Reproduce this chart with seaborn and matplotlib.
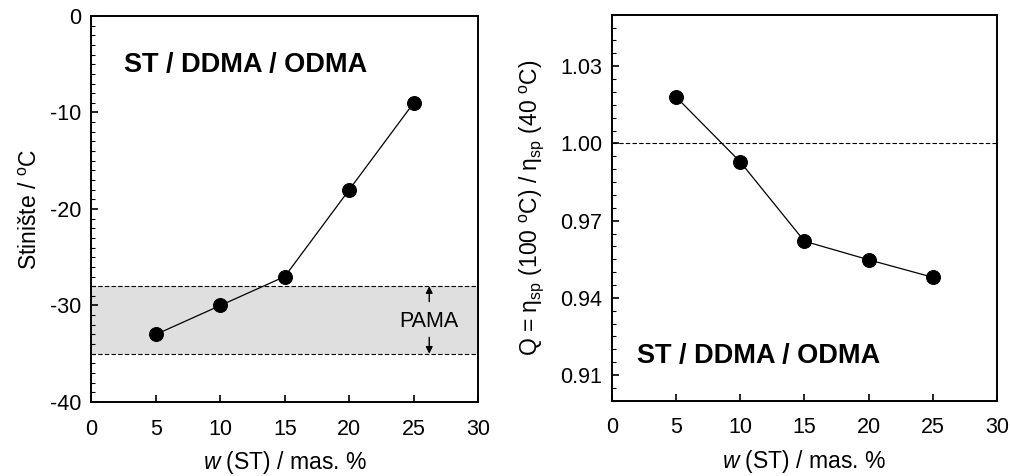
import matplotlib
matplotlib.use("Agg")
import matplotlib.pyplot as plt
import seaborn as sns
import pandas as pd
from matplotlib.ticker import MultipleLocator

# Data
w_st = [5, 10, 15, 20, 25]
cloud_point = [-33, -30, -27, -18, -9]
q_ratio = [1.018, 0.9928, 0.962, 0.9548, 0.948]
pama_low, pama_high = -35, -28
left_yticks = [-40, -30, -20, -10, 0]
right_yticks = [0.91, 0.94, 0.97, 1.00, 1.03]
xticks = [0, 5, 10, 15, 20, 25, 30]
label_text = "ST / DDMA / ODMA"

sns.set_theme(style="ticks")
plt.rcParams['font.family'] = ['Liberation Sans', 'DejaVu Sans']
plt.rcParams['mathtext.fontset'] = 'custom'
plt.rcParams['mathtext.rm'] = 'Liberation Sans'
plt.rcParams['mathtext.it'] = 'Liberation Sans:italic'
plt.rcParams['mathtext.default'] = 'regular'
plt.rcParams['axes.unicode_minus'] = False
plt.rcParams['text.color'] = 'black'
plt.rcParams['axes.labelcolor'] = 'black'
plt.rcParams['xtick.color'] = 'black'
plt.rcParams['ytick.color'] = 'black'

df_l = pd.DataFrame({"w": w_st, "t": cloud_point})
df_r = pd.DataFrame({"w": w_st, "q": q_ratio})

fig = plt.figure(figsize=(10.1, 4.76), dpi=100)
ax1 = fig.add_axes([0.0905, 0.1555, 0.383, 0.811])
ax2 = fig.add_axes([0.606, 0.158, 0.381, 0.811])

FS = 15.5
LFS = 16.5
for ax in (ax1, ax2):
    for s in ax.spines.values():
        s.set_linewidth(1.4)
        s.set_color("black")
        s.set_visible(True)
    ax.tick_params(axis='both', which='both', direction='in', colors='black',
                   labelcolor='black', labelsize=FS, top=False, right=False)
    ax.tick_params(axis='both', which='major', length=5, width=1.2)
    ax.tick_params(axis='y', which='minor', length=3, width=0.8, left=True)
    ax.tick_params(axis='y', pad=7)
    ax.tick_params(axis='x', pad=12)
    ax.set_facecolor('white')

# Left panel
ax1.axhspan(pama_low, pama_high, color='#dfdfdf', zorder=0, lw=0)
ax1.axhline(pama_low, color='black', lw=0.8, ls=(0, (4, 2)), zorder=1)
ax1.axhline(pama_high, color='black', lw=0.8, ls=(0, (4, 2)), zorder=1)
sns.lineplot(data=df_l, x="w", y="t", ax=ax1, color='black', lw=0.9,
             marker='o', markersize=10, markeredgecolor='black',
             markerfacecolor='black', zorder=3)
ax1.set_xlim(0, 30)
ax1.set_ylim(-40, 0)
ax1.set_xticks(xticks)
ax1.set_yticks(left_yticks)
ax1.yaxis.set_minor_locator(MultipleLocator(1))
ax1.set_xlabel("$\\it{w}$ (ST) / mas. %", fontsize=LFS, labelpad=7)
ax1.set_ylabel("Stinište / $^{\\rm o}$C", fontsize=LFS, labelpad=6)
ax1.text(2.5, -5.1, label_text, fontsize=19.5, fontweight='bold', va='center', ha='left')
ax1.text(26.2, -31.7, "PAMA", fontsize=FS, ha='center', va='center')
ax1.annotate("", xy=(26.2, pama_high), xytext=(26.2, -29.6),
             arrowprops=dict(arrowstyle='-|>', color='black', lw=1.0,
                             mutation_scale=10, shrinkA=0, shrinkB=0))
ax1.annotate("", xy=(26.2, pama_low), xytext=(26.2, -33.3),
             arrowprops=dict(arrowstyle='-|>', color='black', lw=1.0,
                             mutation_scale=10, shrinkA=0, shrinkB=0))

# Right panel
ax2.axhline(1.00, color='black', lw=0.8, ls=(0, (4, 2)), zorder=1)
sns.lineplot(data=df_r, x="w", y="q", ax=ax2, color='black', lw=0.9,
             marker='o', markersize=10, markeredgecolor='black',
             markerfacecolor='black', zorder=3)
ax2.set_xlim(0, 30)
ax2.set_ylim(0.90, 1.05)
ax2.set_xticks(xticks)
ax2.set_yticks(right_yticks)
ax2.set_yticklabels([f"{v:.2f}" for v in right_yticks])
ax2.yaxis.set_minor_locator(MultipleLocator(0.005))
ax2.set_xlabel("$\\it{w}$ (ST) / mas. %", fontsize=LFS, labelpad=7)
ax2.set_ylabel("Q = η$_{sp}$ (100 $^{\\rm o}$C) / η$_{sp}$ (40 $^{\\rm o}$C)",
               fontsize=LFS, labelpad=10)
ax2.text(1.95, 0.9174, label_text, fontsize=19.5, fontweight='bold', va='center', ha='left')

fig.savefig("out.png", dpi=100)
